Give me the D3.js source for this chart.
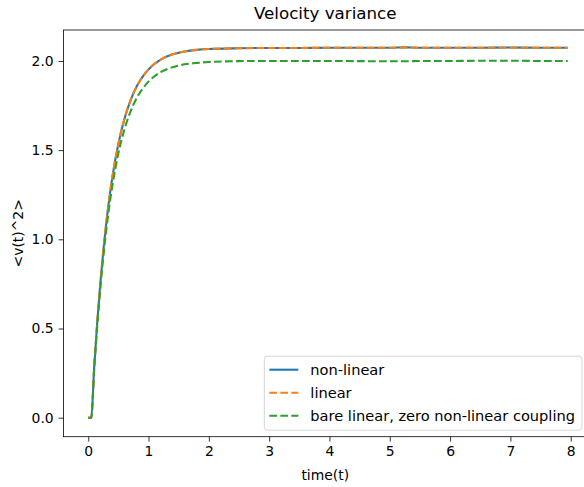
<!DOCTYPE html>
<html>
<head>
<meta charset="utf-8">
<script src="https://cdn.jsdelivr.net/npm/d3@7"></script>
<style>
  body { margin: 0; background: #fff; }
  svg { font-family: 'DejaVu Sans', sans-serif; }
</style>
</head>
<body>
<div id="chart"></div>
<script>
// velocity variance chart, matplotlib look
//``````````````````````````````````````//
let times = [0, 0.05, 0.1, 0.15, 0.2, 0.25, 0.3, 0.35, 0.4, 0.5, 0.6, 0.7, 0.8, 0.9, 1.0, 1.2, 1.4, 1.6, 1.8, 2.0, 2.5, 3, 3.5, 4, 4.5, 5, 5.25, 5.5, 6, 6.5, 7, 7.5, 7.95]
let nonLinear = [0, 0, 0.289, 0.537, 0.751, 0.935, 1.094, 1.230, 1.348, 1.536, 1.675, 1.778, 1.855, 1.911, 1.953, 2.007, 2.037, 2.053, 2.062, 2.067, 2.071, 2.073, 2.073, 2.074, 2.074, 2.074, 2.076, 2.074, 2.074, 2.074, 2.075, 2.074, 2.074]
let linear = [0, 0, 0.289, 0.537, 0.751, 0.935, 1.094, 1.230, 1.348, 1.536, 1.675, 1.778, 1.855, 1.911, 1.953, 2.007, 2.037, 2.053, 2.062, 2.067, 2.071, 2.073, 2.073, 2.074, 2.074, 2.074, 2.075, 2.074, 2.074, 2.074, 2.074, 2.074, 2.074]
let bareLinear = [0, 0, 0.279, 0.518, 0.725, 0.902, 1.055, 1.187, 1.300, 1.482, 1.616, 1.715, 1.790, 1.844, 1.884, 1.937, 1.965, 1.981, 1.989, 1.994, 1.999, 2.000, 2.000, 2.000, 1.999, 1.998, 1.998, 2.000, 2.000, 2.001, 2.001, 2.000, 2.000]

let seriesNames = ['non-linear', 'linear', 'bare linear, zero non-linear coupling']
let seriesColors = ['#1f77b4', '#ff7f0e', '#2ca02c']
let xTicks = [0, 1, 2, 3, 4, 5, 6, 7, 8]
let yTicks = [0, 0.5, 1.0, 1.5, 2.0]

let width = 584, height = 487
let axLeft = 63.5, axRight = 587, axTop = 30, axBottom = 436.7

let svg = d3.select('#chart').append('svg')
    .attr('width', width)
    .attr('height', height)

let x = d3.scaleLinear().domain([-0.41, 8.27]).range([axLeft, axRight])
let y = d3.scaleLinear().domain([-0.1065, 2.1735]).range([axBottom, axTop])

// lines go first so the spines sit above them
let plot = svg.append('g')
let seriesData = [nonLinear, linear, bareLinear]
let dashes = [null, '7.7,3.3', '7.7,3.3']

let lineGen = d3.line()
    .x((d, i) => x(times[i]))
    .y(d => y(d))
    .curve(d3.curveMonotoneX)

seriesData.forEach((vals, i) => {
    plot.append('path')
        .attr('d', lineGen(vals))
        .attr('fill', 'none')
        .attr('stroke', seriesColors[i])
        .attr('stroke-width', 2.08)
        .attr('stroke-dasharray', dashes[i])
})

// axes
let xAxis = d3.axisBottom(x).tickValues(xTicks).tickFormat(d3.format('d'))
    .tickSizeInner(4.9).tickSizeOuter(0).tickPadding(4.9)
let yAxis = d3.axisLeft(y).tickValues(yTicks).tickFormat(d3.format('.1f'))
    .tickSizeInner(4.9).tickSizeOuter(0).tickPadding(4.9)

let gx = svg.append('g').attr('transform', `translate(0,${axBottom})`).call(xAxis)
let gy = svg.append('g').attr('transform', `translate(${axLeft},0)`).call(yAxis)

;[gx, gy].forEach(g => {
    g.select('.domain').remove()
    g.selectAll('.tick line').attr('stroke', '#000').attr('stroke-width', 0.8)
    g.selectAll('.tick text').attr('fill', '#000').style('font-size', '13.9px')
        .style('font-family', "'DejaVu Sans', sans-serif")
})

// spines
svg.append('rect')
    .attr('x', axLeft).attr('y', axTop)
    .attr('width', axRight - axLeft).attr('height', axBottom - axTop)
    .attr('fill', 'none')
    .attr('stroke', '#000')
    .attr('stroke-width', 0.8)

// title and labels
svg.append('text')
    .attr('x', (axLeft + axRight) / 2).attr('y', axTop - 11)
    .attr('text-anchor', 'middle')
    .style('font-size', '16.7px')
    .text('Velocity variance')

svg.append('text')
    .attr('x', (axLeft + axRight) / 2).attr('y', 480)
    .attr('text-anchor', 'middle')
    .style('font-size', '13.9px')
    .text('time(t)')

svg.append('text')
    .attr('transform', `translate(23,${(axTop + axBottom) / 2}) rotate(-90)`)
    .attr('text-anchor', 'middle')
    .style('font-size', '13.9px')
    .text('<v(t)^2>')

// legend, lower right
let legend = svg.append('g')
let legendRight = axRight - 5
let legendBottom = axBottom - 6.5
let rowH = 23
let handleLen = 29, textPad = 12, pad = 5

let box = legend.append('rect')
let labels = []
seriesNames.forEach((name, i) => {
    labels.push(legend.append('text')
        .style('font-size', '14.6px')
        .attr('dy', '0.35em')
        .text(name))
})
let maxW = d3.max(labels, t => t.node().getComputedTextLength())
let boxW = pad + handleLen + textPad + maxW + pad + 2
let boxH = seriesNames.length * rowH + 5
let boxX = legendRight - boxW
let boxY = legendBottom - boxH

box.attr('x', boxX).attr('y', boxY)
    .attr('width', boxW).attr('height', boxH)
    .attr('rx', 3)
    .attr('fill', 'rgba(255,255,255,0.8)')
    .attr('stroke', '#d6d6d6')
    .attr('stroke-width', 1)

seriesNames.forEach((name, i) => {
    let ry = boxY + 13.5 + i * rowH
    legend.append('line')
        .attr('x1', boxX + pad).attr('x2', boxX + pad + handleLen)
        .attr('y1', ry).attr('y2', ry)
        .attr('stroke', seriesColors[i])
        .attr('stroke-width', 2.08)
        .attr('stroke-dasharray', dashes[i])
    labels[i].attr('x', boxX + pad + handleLen + textPad).attr('y', ry)
})
</script>
</body>
</html>
